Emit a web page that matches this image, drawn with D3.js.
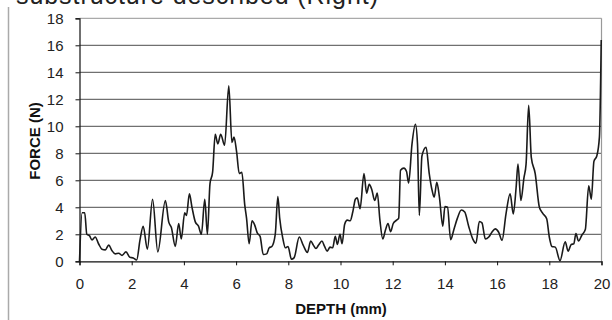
<!DOCTYPE html>
<html>
<head>
<meta charset="utf-8">
<script src="https://cdn.jsdelivr.net/npm/d3@7"></script>
<style>
  body { margin: 0; background: #fff; }
  svg { display: block; font-family: "Liberation Sans", Arial, sans-serif; }
</style>
</head>
<body>
<svg width="612" height="320"></svg>
<script>
// depth (mm) and force (N)
const depth = [0, 0.1, 0.2, 0.28, 0.38, 0.48, 0.6, 0.73, 0.86, 0.99, 1.12, 1.24, 1.37, 1.5, 1.63, 1.78, 1.93, 2.06, 2.19,
  2.32, 2.44, 2.6, 2.8, 3.0, 3.29, 3.42, 3.52, 3.67, 3.8, 3.9, 4.03, 4.1, 4.21, 4.31, 4.44, 4.56, 4.67, 4.8, 4.9,
  5.0, 5.1, 5.2, 5.3, 5.41, 5.56, 5.72, 5.84, 5.92, 6.02, 6.12, 6.22, 6.33, 6.4, 6.5, 6.61, 6.71, 6.81, 6.92,
  7.04, 7.17, 7.27, 7.37, 7.5, 7.6, 7.67, 7.79, 7.89, 7.99, 8.12, 8.22, 8.42, 8.57, 8.73, 8.86, 8.96, 9.06, 9.16,
  9.29, 9.39, 9.49, 9.6, 9.7, 9.8, 9.88, 9.98, 10.06, 10.16, 10.26, 10.37, 10.47, 10.57, 10.64, 10.75, 10.9, 11.0,
  11.1, 11.2, 11.31, 11.41, 11.51, 11.62, 11.72, 11.82, 11.92, 12.02, 12.15, 12.23, 12.3, 12.43, 12.53, 12.61,
  12.74, 12.87, 12.95, 13.02, 13.12, 13.28, 13.4, 13.51, 13.59, 13.69, 13.79, 13.92, 14.0, 14.1, 14.22, 14.35,
  14.48, 14.63, 14.76, 14.91, 15.07, 15.19, 15.32, 15.42, 15.55, 15.68, 15.8, 15.93, 16.06, 16.19, 16.34, 16.5,
  16.62, 16.73, 16.8, 16.91, 17.03, 17.11, 17.21, 17.31, 17.46, 17.62, 17.75, 17.9, 18.0, 18.1, 18.23, 18.41,
  18.61, 18.72, 18.84, 18.94, 19.02, 19.12, 19.25, 19.38, 19.51, 19.61, 19.71, 19.82, 19.92, 19.99];
const force = [0, 3.6, 3.6, 2.0, 1.9, 1.58, 1.8, 1.3, 0.9, 0.85, 1.2, 0.8, 0.55, 0.6, 0.44, 0.7, 0.3, 0.25, 0.1,
  1.6, 2.6, 0.9, 4.6, 0.7, 4.5, 2.9, 2.5, 1.1, 2.8, 1.65, 3.6, 3.4, 5.0, 4.0, 2.9, 2.6, 2.0, 4.6, 2.0,
  5.75, 6.6, 9.4, 8.7, 9.4, 8.6, 13.0, 8.8, 9.2, 8.1, 6.5, 6.6, 4.2, 3.2, 1.3, 3.0, 2.7, 2.1, 1.85,
  0.5, 0.55, 1.0, 1.1, 2.0, 4.8, 3.2, 1.7, 1.0, 1.1, 0.15, 0.25, 1.8, 1.2, 0.65, 1.5, 1.2, 0.95, 1.2,
  1.5, 1.1, 0.75, 1.05, 1.0, 1.85, 1.25, 2.0, 1.3, 2.75, 3.05, 3.0, 3.65, 4.6, 4.7, 3.9, 6.5, 5.05,
  5.7, 5.3, 4.5, 5.05, 3.05, 1.65, 2.3, 2.8, 2.2, 2.8, 3.05, 3.2, 6.75, 6.9, 6.65, 5.8,
  8.7, 10.15, 8.7, 3.4, 7.8, 8.45, 6.5, 5.25, 4.75, 5.85, 4.75, 2.6, 4.05, 4.0, 1.6, 2.4,
  3.2, 3.8, 3.65, 2.6, 1.65, 1.35, 2.95, 2.85, 1.65, 1.8, 2.15, 2.4, 2.15, 1.55, 3.5, 5.0,
  3.5, 5.5, 7.2, 4.5, 6.2, 7.2, 11.55, 7.7, 6.5, 4.0, 3.55, 3.15, 1.8, 1.1, 1.05, 0.05,
  1.45, 0.75, 1.25, 1.3, 2.05, 1.5, 1.95, 2.35, 5.6, 4.6, 7.4, 7.8, 9.2, 16.4];
const xTicks = [0, 2, 4, 6, 8, 10, 12, 14, 16, 18, 20];
const yTicks = [0, 2, 4, 6, 8, 10, 12, 14, 16, 18];

const svg = d3.select("svg");
const plotLeft = 79.5, plotRight = 601.5, plotTop = 18.3, plotBottom = 261.3;

const x = d3.scaleLinear().domain([0, 20]).range([plotLeft, plotRight]);
const y = d3.scaleLinear().domain([0, 18]).range([plotBottom, plotTop]);

// caption line above the chart, clipped by the top edge like in the scan
svg.append("text")
  .attr("x", 16).attr("y", 4)
  .attr("font-size", 25)
  .attr("fill", "#222")
  .attr("textLength", 362)
  .text("substructure described (Right)");

// gray rule on the left side of the page
svg.append("line")
  .attr("x1", 8.5).attr("x2", 8.5).attr("y1", 7).attr("y2", 320)
  .attr("stroke", "#aaa").attr("stroke-width", 1.5);

// gridlines
svg.append("g")
  .selectAll("line")
  .data(yTicks.filter(d => d > 0))
  .join("line")
  .attr("x1", plotLeft).attr("x2", plotRight)
  .attr("y1", d => y(d)).attr("y2", d => y(d))
  .attr("stroke", d => d === 18 ? "#aaa" : "#707070")
  .attr("stroke-width", 1.2);

// right border
svg.append("line")
  .attr("x1", plotRight).attr("x2", plotRight).attr("y1", plotTop).attr("y2", plotBottom)
  .attr("stroke", "#999").attr("stroke-width", 1.2);

const xAxis = svg.append("g")
  .attr("transform", `translate(0,${plotBottom})`)
  .call(d3.axisBottom(x).tickValues(xTicks).tickSize(4).tickPadding(13).tickFormat(d3.format("d")));
const yAxis = svg.append("g")
  .attr("transform", `translate(${plotLeft},0)`)
  .call(d3.axisLeft(y).tickValues(yTicks).tickSize(4).tickPadding(12).tickFormat(d3.format("d")));

[xAxis, yAxis].forEach(g => {
  g.select(".domain").attr("stroke", "#111").attr("stroke-width", 1.2);
  g.selectAll(".tick line").attr("stroke", "#111");
  g.selectAll("text").attr("font-size", 15).attr("fill", "#222")
    .attr("font-family", "Liberation Sans, Arial, sans-serif");
});

// the trace
const line = d3.line()
  .x((d, i) => x(depth[i]))
  .y(d => y(d))
  .curve(d3.curveMonotoneX);

svg.append("path")
  .datum(force)
  .attr("d", line)
  .attr("fill", "none")
  .attr("stroke", "#1a1a1a")
  .attr("stroke-width", 1.6)
  .attr("stroke-linejoin", "round");

// axis titles
svg.append("text")
  .attr("x", 341).attr("y", 314)
  .attr("text-anchor", "middle")
  .attr("font-size", 15).attr("font-weight", "bold").attr("fill", "#111")
  .text("DEPTH (mm)");

svg.append("text")
  .attr("transform", "translate(40,141) rotate(-90)")
  .attr("text-anchor", "middle")
  .attr("font-size", 15).attr("font-weight", "bold").attr("fill", "#111")
  .text("FORCE (N)");
</script>
</body>
</html>
